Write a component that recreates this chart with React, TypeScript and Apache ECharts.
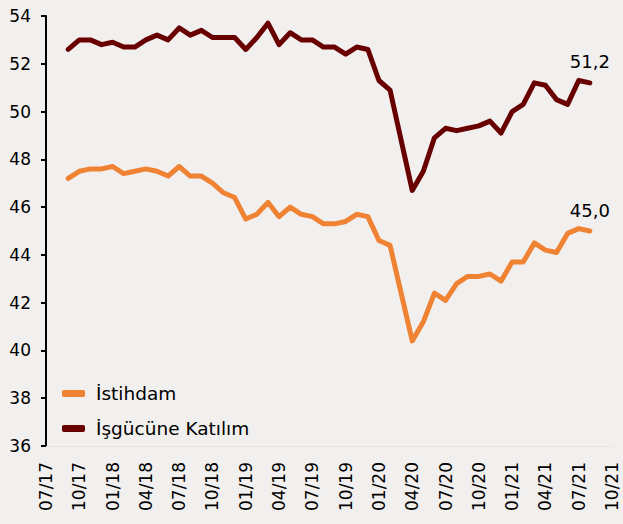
import React, { useEffect, useRef } from "react";
import * as echarts from "echarts";

const categories = [
  "07/17", "08/17", "09/17", "10/17", "11/17", "12/17",
  "01/18", "02/18", "03/18", "04/18", "05/18", "06/18", "07/18", "08/18", "09/18", "10/18", "11/18", "12/18",
  "01/19", "02/19", "03/19", "04/19", "05/19", "06/19", "07/19", "08/19", "09/19", "10/19", "11/19", "12/19",
  "01/20", "02/20", "03/20", "04/20", "05/20", "06/20", "07/20", "08/20", "09/20", "10/20", "11/20", "12/20",
  "01/21", "02/21", "03/21", "04/21", "05/21", "06/21", "07/21", "08/21", "09/21", "10/21",
];

// values from 09/17 to 08/21
const istihdam = [
  47.2, 47.5, 47.6, 47.6, 47.7, 47.4, 47.5, 47.6, 47.5, 47.3, 47.7, 47.3,
  47.3, 47.0, 46.6, 46.4, 45.5, 45.7, 46.2, 45.6, 46.0, 45.7, 45.6, 45.3,
  45.3, 45.4, 45.7, 45.6, 44.6, 44.4, 42.4, 40.4, 41.2, 42.4, 42.1, 42.8,
  43.1, 43.1, 43.2, 42.9, 43.7, 43.7, 44.5, 44.2, 44.1, 44.9, 45.1, 45.0,
];
const katilim = [
  52.6, 53.0, 53.0, 52.8, 52.9, 52.7, 52.7, 53.0, 53.2, 53.0, 53.5, 53.2,
  53.4, 53.1, 53.1, 53.1, 52.6, 53.1, 53.7, 52.8, 53.3, 53.0, 53.0, 52.7,
  52.7, 52.4, 52.7, 52.6, 51.3, 50.9, 48.8, 46.7, 47.5, 48.9, 49.3, 49.2,
  49.3, 49.4, 49.6, 49.1, 50.0, 50.3, 51.2, 51.1, 50.5, 50.3, 51.3, 51.2,
];
const startIndex = 2; // 09/17

const seriesNames = ["İstihdam", "İşgücüne Katılım"];
const seriesColors = ["#EF8233", "#680000"];

const FONT = "DejaVu Sans";

function buildData(values: number[]) {
  const out: any[] = categories.map(() => null);
  values.forEach((v, i) => {
    const isLast = i === values.length - 1;
    out[startIndex + i] = isLast
      ? {
          value: v,
          label: {
            show: true,
            position: "top",
            distance: 12,
            color: "#000",
            fontSize: 18,
            fontFamily: FONT,
            formatter: (p: any) => Number(p.value).toFixed(1).replace(".", ","),
          },
        }
      : v;
  });
  return out;
}

export default function App() {
  const ref = useRef<HTMLDivElement>(null);
  useEffect(() => {
    if (!ref.current) return;
    const chart = echarts.init(ref.current, null, { renderer: "svg" });
    chart.setOption({
      animation: false,
      backgroundColor: "#f2f0ef",
      textStyle: { fontFamily: FONT },
      grid: { left: 46, right: 11, top: 16, bottom: 78, containLabel: false },
      legend: {
        orient: "vertical",
        left: 57,
        top: 379,
        itemWidth: 23,
        itemHeight: 7,
        itemGap: 16,
        icon: "roundRect",
        textStyle: { fontSize: 18.5, color: "#000", fontFamily: FONT, padding: [0, 0, 0, 6] },
        data: seriesNames,
      },
      xAxis: {
        type: "category",
        data: categories,
        boundaryGap: false,
        axisLine: { show: true, lineStyle: { color: "#e6e4e3", width: 1 } },
        axisTick: { show: true, interval: 2, length: 4, lineStyle: { color: "#e6e4e3" } },
        axisLabel: {
          interval: 2,
          rotate: 90,
          margin: 16,
          fontSize: 17,
          color: "#000",
          fontFamily: FONT,
        },
        splitLine: { show: false },
      },
      yAxis: {
        type: "value",
        min: 36,
        max: 54,
        interval: 2,
        axisLine: { show: true, lineStyle: { color: "#000", width: 2 } },
        axisTick: { show: true, length: 5, lineStyle: { color: "#000", width: 2 } },
        axisLabel: { margin: 15, fontSize: 17, color: "#000", fontFamily: FONT },
        splitLine: { show: false },
      },
      series: [
        {
          name: seriesNames[0],
          type: "line",
          data: buildData(istihdam),
          symbol: "circle",
          symbolSize: 0,
          showSymbol: true,
          lineStyle: { color: seriesColors[0], width: 5, cap: "round", join: "round" },
          itemStyle: { color: seriesColors[0] },
        },
        {
          name: seriesNames[1],
          type: "line",
          data: buildData(katilim),
          symbol: "circle",
          symbolSize: 0,
          showSymbol: true,
          lineStyle: { color: seriesColors[1], width: 5, cap: "round", join: "round" },
          itemStyle: { color: seriesColors[1] },
        },
      ],
    });
    return () => chart.dispose();
  }, []);
  return (
    <div
      ref={ref}
      style={{ position: "absolute", left: 0, top: 0, width: 623, height: 524 }}
    />
  );
}
